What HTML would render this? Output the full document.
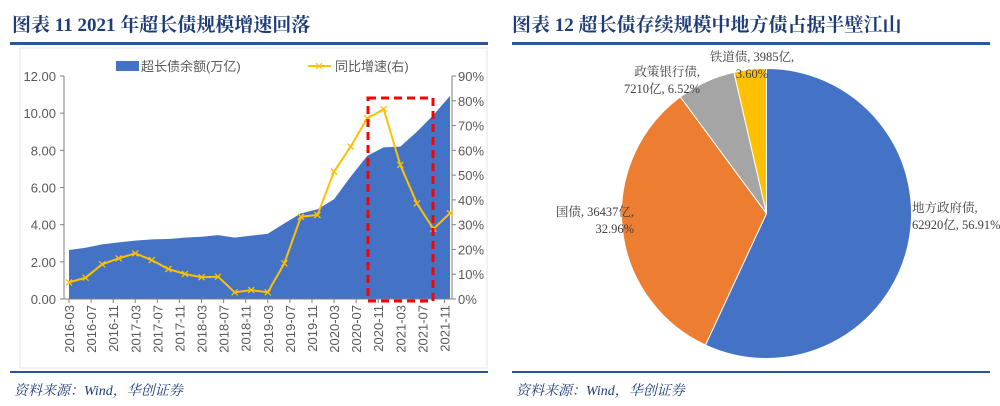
<!DOCTYPE html>
<html><head><meta charset="utf-8"><style>
body{margin:0;background:#fff;}
svg{display:block;font-family:"Liberation Serif","Noto Serif CJK SC",serif;}
.t{font-weight:bold;fill:#1f3c7a;font-size:19px;}
.ax{font-family:"Liberation Sans","Noto Sans CJK SC",sans-serif;font-size:13px;fill:#595959;}
.pl{font-size:12.5px;fill:#404040;}
.src{font-style:italic;fill:#1f3c7a;font-size:14px;}
</style></head><body>
<svg id="s" width="1000" height="406">
<text class="t" x="12" y="31">图表 11  2021 年超长债规模增速回落</text>
<rect x="10" y="42" width="478" height="3" fill="#2e5597"/>
<rect x="20" y="48" width="467" height="320" fill="none" stroke="#e6e6e6"/>
<text class="t" x="512" y="31">图表 12  超长债存续规模中地方债占据半壁江山</text>
<rect x="512" y="42" width="478" height="3" fill="#2e5597"/>
<rect x="10" y="371" width="478" height="2" fill="#2e5597"/>
<rect x="512" y="371" width="478" height="2" fill="#2e5597"/>
<text class="src" x="14" y="395">资料来源：Wind，华创证券</text>
<text class="src" x="516" y="395">资料来源：Wind，华创证券</text>
<g id="left"></g>
<g id="right"></g>
</svg>
<script>
const NS="http://www.w3.org/2000/svg";
const balance=[2.64,2.76,2.94,3.05,3.14,3.21,3.23,3.30,3.35,3.44,3.30,3.41,3.51,4.07,4.61,4.83,5.37,6.58,7.70,8.16,8.20,9.00,9.90,10.93];
const growth=[6.7,8.6,14,16.4,18.4,15.7,12.1,10.1,8.8,9.0,2.7,3.6,2.7,14.4,33.2,33.9,51.4,61.5,72.9,76.6,54.1,38.6,28.3,34.6];
const xTickLabels=["2016-03","2016-07","2016-11","2017-03","2017-07","2017-11","2018-03","2018-07","2018-11","2019-03","2019-07","2019-11","2020-03","2020-07","2020-11","2021-03","2021-07","2021-11"];
const leftTicks=[0,2,4,6,8,10,12];
const rightTicks=[0,10,20,30,40,50,60,70,80,90];
const pieNames=["地方政府债","国债","政策银行债","铁道债"];
const pieValues=[62920,36437,7210,3985];
const piePct=["56.91%","32.96%","6.52%","3.60%"];

function mk(tag,at,parent,txt){const e=document.createElementNS(NS,tag);for(const k in at)e.setAttribute(k,at[k]);if(txt!==undefined)e.textContent=txt;parent.appendChild(e);return e;}
const L=document.getElementById('left'),R=document.getElementById('right');
const x0=69,x1=450,yB=299,yT=76;
const xi=i=>x0+i*(x1-x0)/(balance.length-1);
const xm=m=>x0+m*(x1-x0)/((balance.length-1)*3);
const yl=v=>yB-(v/12)*(yB-yT);
const yr=v=>yB-(v/90)*(yB-yT);
// area
let d="M"+xi(0)+","+yB;balance.forEach((v,i)=>d+=" L"+xi(i)+","+yl(v));d+=" L"+xi(balance.length-1)+","+yB+"Z";
let a=mk('path',{d:d,fill:'#4472c4'},L);


// axes
let ax=mk('path',{d:`M64,${yT} L64,${yB} M${x1+2},${yT} L${x1+2},${yB} M64,${yB} L${x1+2},${yB}`,stroke:'#7f7f7f',fill:'none'},L);


leftTicks.forEach(v=>{mk('line',{x1:60,x2:64,y1:yl(v),y2:yl(v),stroke:'#7f7f7f'},L);
 let t=mk('text',{class:'ax',x:56,y:yl(v)+5,'text-anchor':'end'},L,v.toFixed(2));
 
 });
rightTicks.forEach(v=>{mk('line',{x1:x1+2,x2:x1+6,y1:yr(v),y2:yr(v),stroke:'#7f7f7f'},L);
 let t=mk('text',{class:'ax',x:x1+8,y:yr(v)+5},L,v+'%');
 
 });
xTickLabels.forEach((s,k)=>{const x=xm(k*4);mk('line',{x1:x,x2:x,y1:yB,y2:yB+4,stroke:'#7f7f7f'},L);
 let t=mk('text',{class:'ax',transform:`translate(${x+5},${yB+6}) rotate(-90)`,'text-anchor':'end'},L,s);
 
 });
// line
let p=mk('polyline',{points:growth.map((v,i)=>xi(i)+","+yr(v)).join(" "),fill:'none',stroke:'#ffc000','stroke-width':2},L);


growth.forEach((v,i)=>{const x=xi(i),y=yr(v);let m=mk('path',{d:`M${x-3},${y-3}L${x+3},${y+3}M${x-3},${y+3}L${x+3},${y-3}`,stroke:'#ffc000','stroke-width':1.3},L);
 
 });
let box=mk('rect',{x:368,y:98,width:65,height:203,fill:'none',stroke:'#ff0000','stroke-width':3,'stroke-dasharray':'8,5'},L);


// legend
let lg=mk('g',{},L);


mk('rect',{x:116,y:61,width:23,height:10,fill:'#4472c4'},lg);
mk('text',{class:'ax',x:141,y:71},lg,'超长债余额(万亿)');
mk('line',{x1:308,x2:331,y1:66,y2:66,stroke:'#ffc000','stroke-width':2},lg);
mk('path',{d:'M316,63L322,69M316,69L322,63',stroke:'#ffc000'},lg);
mk('text',{class:'ax',x:335,y:71},lg,'同比增速(右)');
// pie
const cx=766.5,cy=213.5,r=145,cols=['#4472c4','#ed7d31','#a5a5a5','#ffc000'];
const tot=pieValues.reduce((s,v)=>s+v,0);let ang=0;
pieValues.forEach((v,i)=>{const a0=ang,a1=ang+v/tot*2*Math.PI;ang=a1;
 const P=a=>[cx+r*Math.sin(a),cy-r*Math.cos(a)];const [sx,sy]=P(a0),[ex,ey]=P(a1);
 let s=mk('path',{d:`M${cx},${cy}L${sx},${sy}A${r},${r} 0 ${a1-a0>Math.PI?1:0} 1 ${ex},${ey}Z`,fill:cols[i],stroke:'#fff','stroke-width':1},R);
 
 });
const fmt=i=>pieValues[i]+'亿, '+piePct[i];
function lab(lines,x,y,anchor,name){const t=mk('text',{class:'pl','text-anchor':anchor},R);
 
 
 lines.forEach((s,k)=>mk('tspan',{x:x,y:y+k*17},t,s));}
lab([pieNames[0]+',',fmt(0)],912,212,'start','label-local-gov');
lab([pieNames[1]+', '+pieValues[1]+'亿,',piePct[1]],634,216,'end','label-treasury');
lab([pieNames[2]+',',pieValues[2]+'亿, '+piePct[2]],700,76,'end','label-policy-bank');
lab([pieNames[3]+', '+pieValues[3]+'亿,',piePct[3]],752,61,'middle','label-railway');
</script>
</body></html>
